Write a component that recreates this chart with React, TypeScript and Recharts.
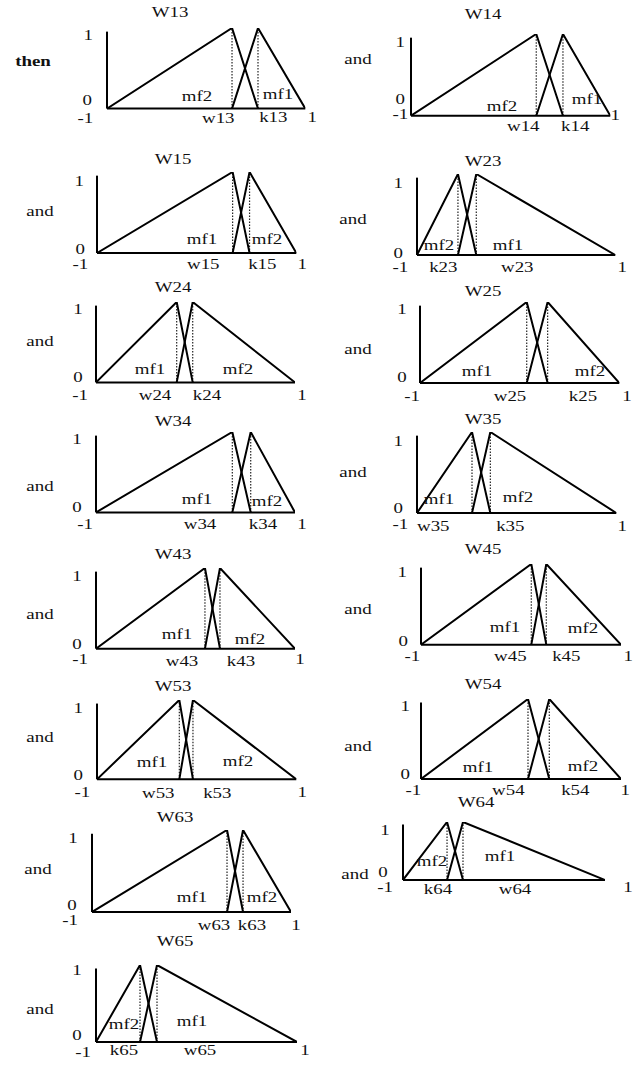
import React from 'react';
import { LineChart, Line, XAxis, YAxis, ReferenceLine } from 'recharts';

// ---------- data ----------
const panelNames = ['W13', 'W14', 'W15', 'W23', 'W24', 'W25', 'W34', 'W35', 'W43', 'W45', 'W53', 'W54', 'W63', 'W64', 'W65'];
const connectors = ['then', 'and', 'and', 'and', 'and', 'and', 'and', 'and', 'and', 'and', 'and', 'and', 'and', 'and', 'and'];
const leftPeaks = [0.261, 0.257, 0.361, -0.587, -0.189, 0.071, 0.37, -0.448, 0.095, 0.103, -0.174, 0.07, 0.357, -0.564, -0.562];
const rightPeaks = [0.523, 0.525, 0.531, -0.402, -0.028, 0.281, 0.555, -0.264, 0.246, 0.253, -0.037, 0.283, 0.518, -0.406, -0.393];
const leftPeakLabels = ['w13', 'w14', 'w15', 'k23', 'w24', 'w25', 'w34', 'w35', 'w43', 'w45', 'w53', 'w54', 'w63', 'k64', 'k65'];
const rightPeakLabels = ['k13', 'k14', 'k15', 'w23', 'k24', 'k25', 'k34', 'k35', 'k43', 'k45', 'k53', 'k54', 'k63', 'w64', 'w65'];
const leftMfLabels = ['mf2', 'mf2', 'mf1', 'mf2', 'mf1', 'mf1', 'mf1', 'mf1', 'mf1', 'mf1', 'mf1', 'mf1', 'mf1', 'mf2', 'mf2'];
const rightMfLabels = ['mf1', 'mf1', 'mf2', 'mf1', 'mf2', 'mf2', 'mf2', 'mf2', 'mf2', 'mf2', 'mf2', 'mf2', 'mf2', 'mf1', 'mf1'];
const xEndLabels = ['-1', '1'];
const yTickLabels = ['0', '1'];
const yAxisTop = 0.955;

// ---------- layout (pixel positions) ----------
type Pt = [number, number];
interface Lay { box: [number, number, number, number]; title: Pt; conn: Pt; mfL: Pt; mfR: Pt; xt: Pt[]; y1: Pt; y0: Pt; }
const layout: Lay[] = [
  { box: [106.7, 305, 27.7, 108.3], title: [170, 13], conn: [33, 62], mfL: [197, 97], mfR: [278, 95], xt: [[85, 118], [218, 118], [273, 117], [312, 117]], y1: [88, 35], y0: [87, 100] },
  { box: [410.7, 610, 34.3, 116], title: [483, 15], conn: [358, 60], mfL: [502, 107], mfR: [587, 100], xt: [[400, 115], [523, 127], [575, 127], [615, 116]], y1: [400, 43], y0: [400, 100] },
  { box: [96.7, 296, 172.3, 253.3], title: [173, 160], conn: [40, 212], mfL: [202, 240], mfR: [267, 240], xt: [[80, 265], [203, 265], [262, 265], [302, 265]], y1: [79, 182], y0: [80, 250] },
  { box: [416.7, 615, 174, 255], title: [483, 162], conn: [353, 220], mfL: [439, 246], mfR: [508, 246], xt: [[400, 267], [443, 267], [517, 267], [622, 267]], y1: [398, 183], y0: [398, 253] },
  { box: [96, 295, 302.3, 382.7], title: [173, 288], conn: [40, 342], mfL: [150, 370], mfR: [238, 370], xt: [[80, 396], [155, 396], [207, 396], [302, 396]], y1: [78, 310], y0: [78, 378] },
  { box: [420, 619.3, 302.3, 383.3], title: [483, 292], conn: [358, 350], mfL: [477, 372], mfR: [590, 372], xt: [[412, 397], [510, 397], [583, 397], [627, 397]], y1: [402, 310], y0: [402, 378] },
  { box: [96, 295, 432.3, 512.7], title: [173, 422], conn: [40, 487], mfL: [197, 500], mfR: [267, 502], xt: [[85, 525], [200, 525], [263, 525], [302, 525]], y1: [77, 440], y0: [77, 508] },
  { box: [416.7, 616, 432.3, 513.3], title: [483, 420], conn: [353, 473], mfL: [439, 500], mfR: [518, 498], xt: [[400, 525], [433, 527], [510, 527], [622, 527]], y1: [398, 442], y0: [398, 509] },
  { box: [96, 295, 568.3, 649], title: [173, 555], conn: [40, 615], mfL: [177, 635], mfR: [250, 640], xt: [[80, 660], [182, 662], [241, 662], [300, 660]], y1: [77, 577], y0: [77, 645] },
  { box: [420.7, 620.7, 564.3, 645], title: [483, 550], conn: [358, 610], mfL: [505, 628], mfR: [583, 629], xt: [[412, 657], [510, 657], [566, 657], [628, 657]], y1: [402, 573], y0: [403, 642] },
  { box: [96.7, 296, 700, 779.3], title: [173, 687], conn: [40, 738], mfL: [152, 763], mfR: [238, 762], xt: [[82, 792], [158, 793], [217, 793], [302, 792]], y1: [78, 708], y0: [78, 775] },
  { box: [420.7, 620.7, 699.3, 779.3], title: [483, 685], conn: [358, 747], mfL: [478, 768], mfR: [583, 767], xt: [[413, 791], [508, 791], [575, 791], [625, 791]], y1: [405, 707], y0: [405, 775] },
  { box: [92, 291, 830, 912], title: [175, 818], conn: [38, 870], mfL: [192, 898], mfR: [262, 898], xt: [[70, 920], [214, 925], [252, 925], [296, 925]], y1: [73, 838], y0: [72, 905] },
  { box: [403, 605, 822, 880], title: [476, 803], conn: [355, 875], mfL: [432, 862], mfR: [500, 857], xt: [[385, 887], [438, 889], [515, 889], [628, 887]], y1: [385, 830], y0: [383, 872] },
  { box: [96, 297, 965, 1042], title: [175, 942], conn: [40, 1010], mfL: [124, 1025], mfR: [192, 1022], xt: [[83, 1052], [124, 1050], [200, 1050], [305, 1050]], y1: [77, 970], y0: [77, 1035] },
];

const FONT = '"Liberation Serif", "Times New Roman", Times, serif';
const SX = 1.35;
const FS = 14;
const ML = 45, MR = 35, MT = 10, MB = 25;
const AX_H = 20, AX_W = 20;

function Txt({ p, children, bold }: { p: Pt; children: React.ReactNode; bold?: boolean }) {
  return (
    <div
      style={{
        position: 'absolute', left: p[0], top: p[1],
        transform: `translate(-50%, -50%) scaleX(${SX})`,
        fontFamily: FONT, fontSize: FS, lineHeight: `${FS}px`, whiteSpace: 'nowrap',
        fontWeight: bold ? 'bold' : 'normal', color: '#111',
      }}
    >
      {children}
    </div>
  );
}

function SvgTxt({ x, y, text }: { x: number; y: number; text: string }) {
  return (
    <text transform={`translate(${x},${y}) scale(${SX},1)`} textAnchor="middle" dominantBaseline="central"
      fontFamily={FONT} fontSize={FS} fill="#111">{text}</text>
  );
}

function Panel({ i }: { i: number }) {
  const L = layout[i];
  const [xL, xR, yT, yB] = L.box;
  const w = xR - xL + ML + MR;
  const h = yB - yT + MT + MB;
  const cl = xL - ML;
  const ct = yT - MT;
  const a = leftPeaks[i];
  const b = rightPeaks[i];
  const tri1 = [{ x: -1, y: 0 }, { x: a, y: 1 }, { x: b, y: 0 }];
  const tri2 = [{ x: a, y: 0 }, { x: b, y: 1 }, { x: 1, y: 0 }];
  const xLabels = [xEndLabels[0], leftPeakLabels[i], rightPeakLabels[i], xEndLabels[1]];

  const XTick = (props: any) => {
    const idx = props.index as number;
    const p = L.xt[idx];
    if (!p) return null;
    return <SvgTxt x={p[0] - cl} y={p[1] - ct} text={xLabels[idx]} />;
  };
  const YTick = (props: any) => {
    const v = props.payload?.value;
    const p = v === 1 ? L.y1 : L.y0;
    return <SvgTxt x={p[0] - cl} y={p[1] - ct} text={v === 1 ? yTickLabels[1] : yTickLabels[0]} />;
  };

  return (
    <>
      <div style={{ position: 'absolute', left: cl, top: ct, width: w, height: h }}>
        <LineChart width={w} height={h} margin={{ top: MT, right: MR, bottom: MB - AX_H, left: ML - AX_W }} style={{ overflow: 'visible' }}>
          <XAxis dataKey="x" type="number" domain={[-1, 1]} ticks={[-1, a, b, 1]} interval={0} height={AX_H}
            allowDataOverflow axisLine={{ stroke: '#000', strokeWidth: 2 }} tickLine={false} tick={<XTick />} />
          <YAxis type="number" domain={[0, 1]} ticks={[0, 1]} interval={0} width={AX_W} allowDataOverflow
            axisLine={false} tickLine={false} tick={<YTick />} />
          <ReferenceLine ifOverflow="visible" segment={[{ x: -1, y: 0 }, { x: -1, y: yAxisTop }]} stroke="#000" strokeWidth={2} />
          <ReferenceLine ifOverflow="visible" segment={[{ x: a, y: 0 }, { x: a, y: 1 }]} stroke="#222" strokeWidth={1.2} strokeDasharray="1.5 1.5" />
          <ReferenceLine ifOverflow="visible" segment={[{ x: b, y: 0 }, { x: b, y: 1 }]} stroke="#222" strokeWidth={1.2} strokeDasharray="1.5 1.5" />
          <Line data={tri1} dataKey="y" type="linear" stroke="#000" strokeWidth={2} dot={false} activeDot={false}
            strokeLinejoin="miter" isAnimationActive={false} />
          <Line data={tri2} dataKey="y" type="linear" stroke="#000" strokeWidth={2} dot={false} activeDot={false}
            strokeLinejoin="miter" isAnimationActive={false} />
        </LineChart>
      </div>
      <Txt p={L.title}>{panelNames[i]}</Txt>
      <Txt p={L.conn} bold={connectors[i] === 'then'}>{connectors[i]}</Txt>
      <Txt p={L.mfL}>{leftMfLabels[i]}</Txt>
      <Txt p={L.mfR}>{rightMfLabels[i]}</Txt>
    </>
  );
}

export default function App() {
  return (
    <div style={{ position: 'absolute', left: 0, top: 0, width: 636, height: 1070, background: '#fff', overflow: 'hidden' }}>
      {panelNames.map((_, i) => <Panel key={i} i={i} />)}
    </div>
  );
}
